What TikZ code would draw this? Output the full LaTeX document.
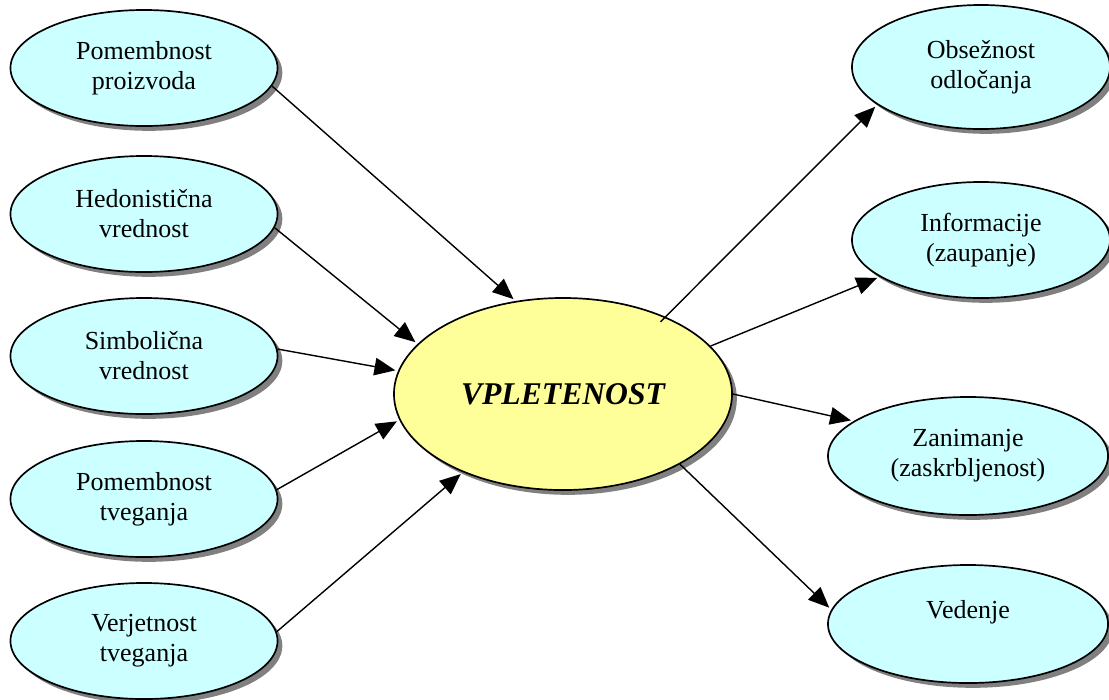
\documentclass[tikz,border=0pt]{standalone}
\usepackage{fontspec}
\setmainfont{Liberation Serif}
\usetikzlibrary{shapes.geometric, arrows.meta, shadows}
\definecolor{lcyan}{HTML}{CCFFFF}
\definecolor{lyellow}{HTML}{FFFF99}

\begin{document}
\begin{tikzpicture}[x=0.025cm, y=-0.025cm,
    el/.style={ellipse, draw, line width=1.2pt, fill=lcyan, align=center,
        inner sep=0pt, font=\fontsize{18.5}{21.3}\selectfont,
        drop shadow={shadow xshift=0.12cm, shadow yshift=-0.12cm,
            fill=black!50, opacity=1}},
    lf/.style={el, minimum width=6.675cm, minimum height=2.9cm},
    rs/.style={el, minimum width=6.45cm, minimum height=2.9cm},
    rb/.style={el, minimum width=7cm, minimum height=2.95cm},
    cn/.style={el, fill=lyellow, minimum width=8.45cm, minimum height=4.8cm,
        font=\fontsize{22.5}{27}\selectfont\bfseries\itshape},
    ar/.style={-{Triangle[length=0.52cm, width=0.44cm]}, line width=1pt,
        shorten >=2pt}]
\useasboundingbox (0,0) rectangle (1109,699);
% left column
\node[lf] (L1) at (144,68) {Pomembnost\\proizvoda};
\node[lf] (L2) at (144,214) {Hedonistična\\vrednost};
\node[lf] (L3) at (144,356) {Simbolična\\vrednost};
\node[lf] (L4) at (144,499) {Pomembnost\\tveganja};
\node[lf] (L5) at (144,641) {Verjetnost\\tveganja};
% centre
\node[cn] (V) at (563,394) {VPLETENOST};
% right column
\node[rs, minimum height=3.1cm] (O1) at (981,67) {Obsežnost\\odločanja};
\node[rs] (O2) at (981,240) {Informacije\\(zaupanje)};
\node[rb] (O3) at (968,456) {Zanimanje\\(zaskrbljenost)};
\node[rb] (O4) at (968,624) {Vedenje\\\phantom{x}};
\draw[ar] (L1.-8) -- (V.117);
\draw[ar] (L2.-6) -- (V.161);
\draw[ar] (L3.3) -- (V.172);
\draw[ar] (L4.4) -- (V.189);
\draw[ar] (L5.4) -- (V.218);
\draw[ar, shorten <=-0.18cm] (V.37) -- (O1.200);
\draw[ar] (V.18) -- (O2.200);
\draw[ar] (V.0) -- (O3.163);
\draw[ar] (V.-31) -- (O4.174);
\end{tikzpicture}
\end{document}
